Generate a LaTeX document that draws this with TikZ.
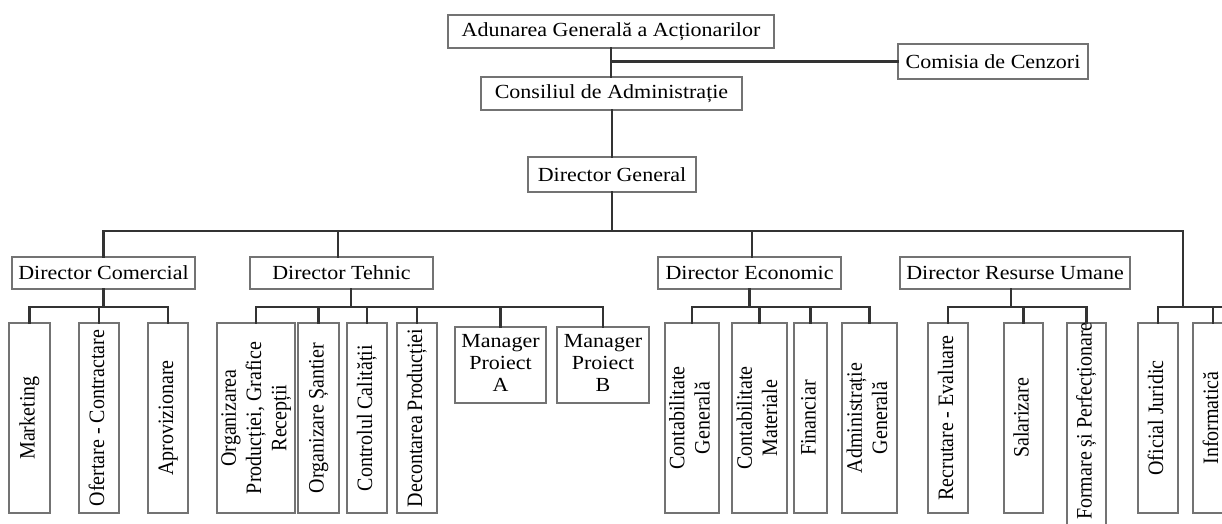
\documentclass[tikz,border=0pt]{standalone}
\usepackage{fontspec}
\setmainfont{Liberation Serif}
\newcommand{\hx}[1]{\scalebox{1.1}[1]{#1}}
\newcommand{\hl}[1]{\hx{\begin{tabular}{@{}c@{}}#1\end{tabular}}}
\newcommand{\vt}[1]{\scalebox{1.1}[1]{\rotatebox{90}{\begin{tabular}{@{}c@{}}#1\end{tabular}}}}
\tikzset{
  box/.style={draw=black!55, line width=1.1pt, inner sep=0pt, font=\fontsize{20}{22}\selectfont},
  vbox/.style={box, font=\fontsize{20}{23}\selectfont, minimum height=190},
  conn/.style={draw=black!80, line width=2.6pt, line cap=rect},
}
\begin{document}
\begin{tikzpicture}[x=1pt,y=-1pt]
\useasboundingbox (0,0) rectangle (1222,523);
% top
\node[box, minimum width=326, minimum height=33] (adun) at (611,31.5) {\hx{Adunarea Generală a Acționarilor}};
\node[box, minimum width=190, minimum height=35] (comisia) at (993,61.5) {\hx{Comisia de Cenzori}};
\node[box, minimum width=261, minimum height=33] (consiliul) at (611.5,93.5) {\hx{Consiliul de Administrație}};
\node[box, minimum width=168, minimum height=35] (dg) at (612,174.5) {\hx{Director General}};
% directors
\node[box, minimum width=183, minimum height=32] (dc) at (103.5,273) {\hx{Director Comercial}};
\node[box, minimum width=183, minimum height=32] (dt) at (341.5,273) {\hx{Director Tehnic}};
\node[box, minimum width=183, minimum height=32] (de) at (749.5,273) {\hx{Director Economic}};
\node[box, minimum width=230, minimum height=32] (dru) at (1015,273) {\hx{Director Resurse Umane}};
% departments
\node[vbox, minimum width=41] (mk) at (29.5,418) {\vt{Marketing}};
\node[vbox, minimum width=40] (of) at (99,418) {\vt{Ofertare - Contractare}};
\node[vbox, minimum width=40] (ap) at (168,418) {\vt{Aprovizionare}};
\node[vbox, minimum width=78] (op) at (256,418) {\vt{Organizarea\\Producției, Grafice\\Recepții}};
\node[vbox, minimum width=41] (os) at (318.5,418) {\vt{Organizare Șantier}};
\node[vbox, minimum width=40] (cc) at (367,418) {\vt{Controlul Calității}};
\node[vbox, minimum width=40] (dp) at (417,418) {\vt{Decontarea Producției}};
\node[box, minimum width=91, minimum height=76] (ma) at (500.5,365) {\hl{Manager\\Proiect\\A}};
\node[box, minimum width=92, minimum height=76] (mb) at (603,365) {\hl{Manager\\Proiect\\B}};
\node[vbox, minimum width=54] (cg) at (692,418) {\vt{Contabilitate\\Generală}};
\node[vbox, minimum width=55] (cm) at (759.5,418) {\vt{Contabilitate\\Materiale}};
\node[vbox, minimum width=33] (fi) at (810.5,418) {\vt{Financiar}};
\node[vbox, minimum width=55] (ag) at (869.5,418) {\vt{Administrație\\Generală}};
\node[vbox, minimum width=40] (re) at (948,418) {\vt{Recrutare - Evaluare}};
\node[vbox, minimum width=39] (sa) at (1023.5,418) {\vt{Salarizare}};
\node[box, minimum width=39, minimum height=220] (fp) at (1086.5,433) {};
\node[inner sep=0pt, font=\fontsize{20}{23}\selectfont] (fpt) at (1086.5,421) {\vt{Formare și Perfecționare}};
\node[vbox, minimum width=40] (oj) at (1158,418) {\vt{Oficial Juridic}};
\node[vbox, minimum width=40] (inf) at (1213,418) {\vt{Informatică}};
% coordinates
\coordinate (bus) at (0,231);
\coordinate (sb) at (0,307);
\coordinate (rj) at (1183,231);
\coordinate (rend) at (1240,307);
% top connectors
\draw[conn] (adun.south) -- (adun.south |- consiliul.north);
\coordinate (cj) at (611,61.5);
\draw[conn] (cj) -- (comisia.west);
\draw[conn] (consiliul.south -| dg.north) -- (dg.north);
\draw[conn] (dg.south) -- (dg.south |- bus);
\draw[conn] (dc.north |- bus) -- (rj);
\draw[conn] (dc.north) -- (dc.north |- bus);
\draw[conn] ([xshift=-3.5]dt.north) -- ([xshift=-3.5]dt.north |- bus);
\draw[conn] ([xshift=2.5]de.north) -- ([xshift=2.5]de.north |- bus);
\draw[conn] (rj) -- (rj |- sb);
% group buses
\draw[conn] (dc.south) -- (dc.south |- sb);
\draw[conn] (mk.north |- sb) -- (ap.north |- sb);
\draw[conn] ([xshift=9.5]dt.south) -- ([xshift=9.5]dt.south |- sb);
\draw[conn] (op.north |- sb) -- (mb.north |- sb);
\draw[conn] (de.south) -- (de.south |- sb);
\draw[conn] (cg.north |- sb) -- (ag.north |- sb);
\draw[conn] ([xshift=-4]dru.south) -- ([xshift=-4]dru.south |- sb);
\draw[conn] (re.north |- sb) -- (fp.north |- sb);
\draw[conn] (oj.north |- sb) -- (rend);
\foreach \n in {mk,of,ap,op,os,cc,dp,ma,mb,cg,cm,fi,ag,re,sa,fp,oj,inf}
  \draw[conn] (\n.north) -- (\n.north |- sb);
\end{tikzpicture}
\end{document}
